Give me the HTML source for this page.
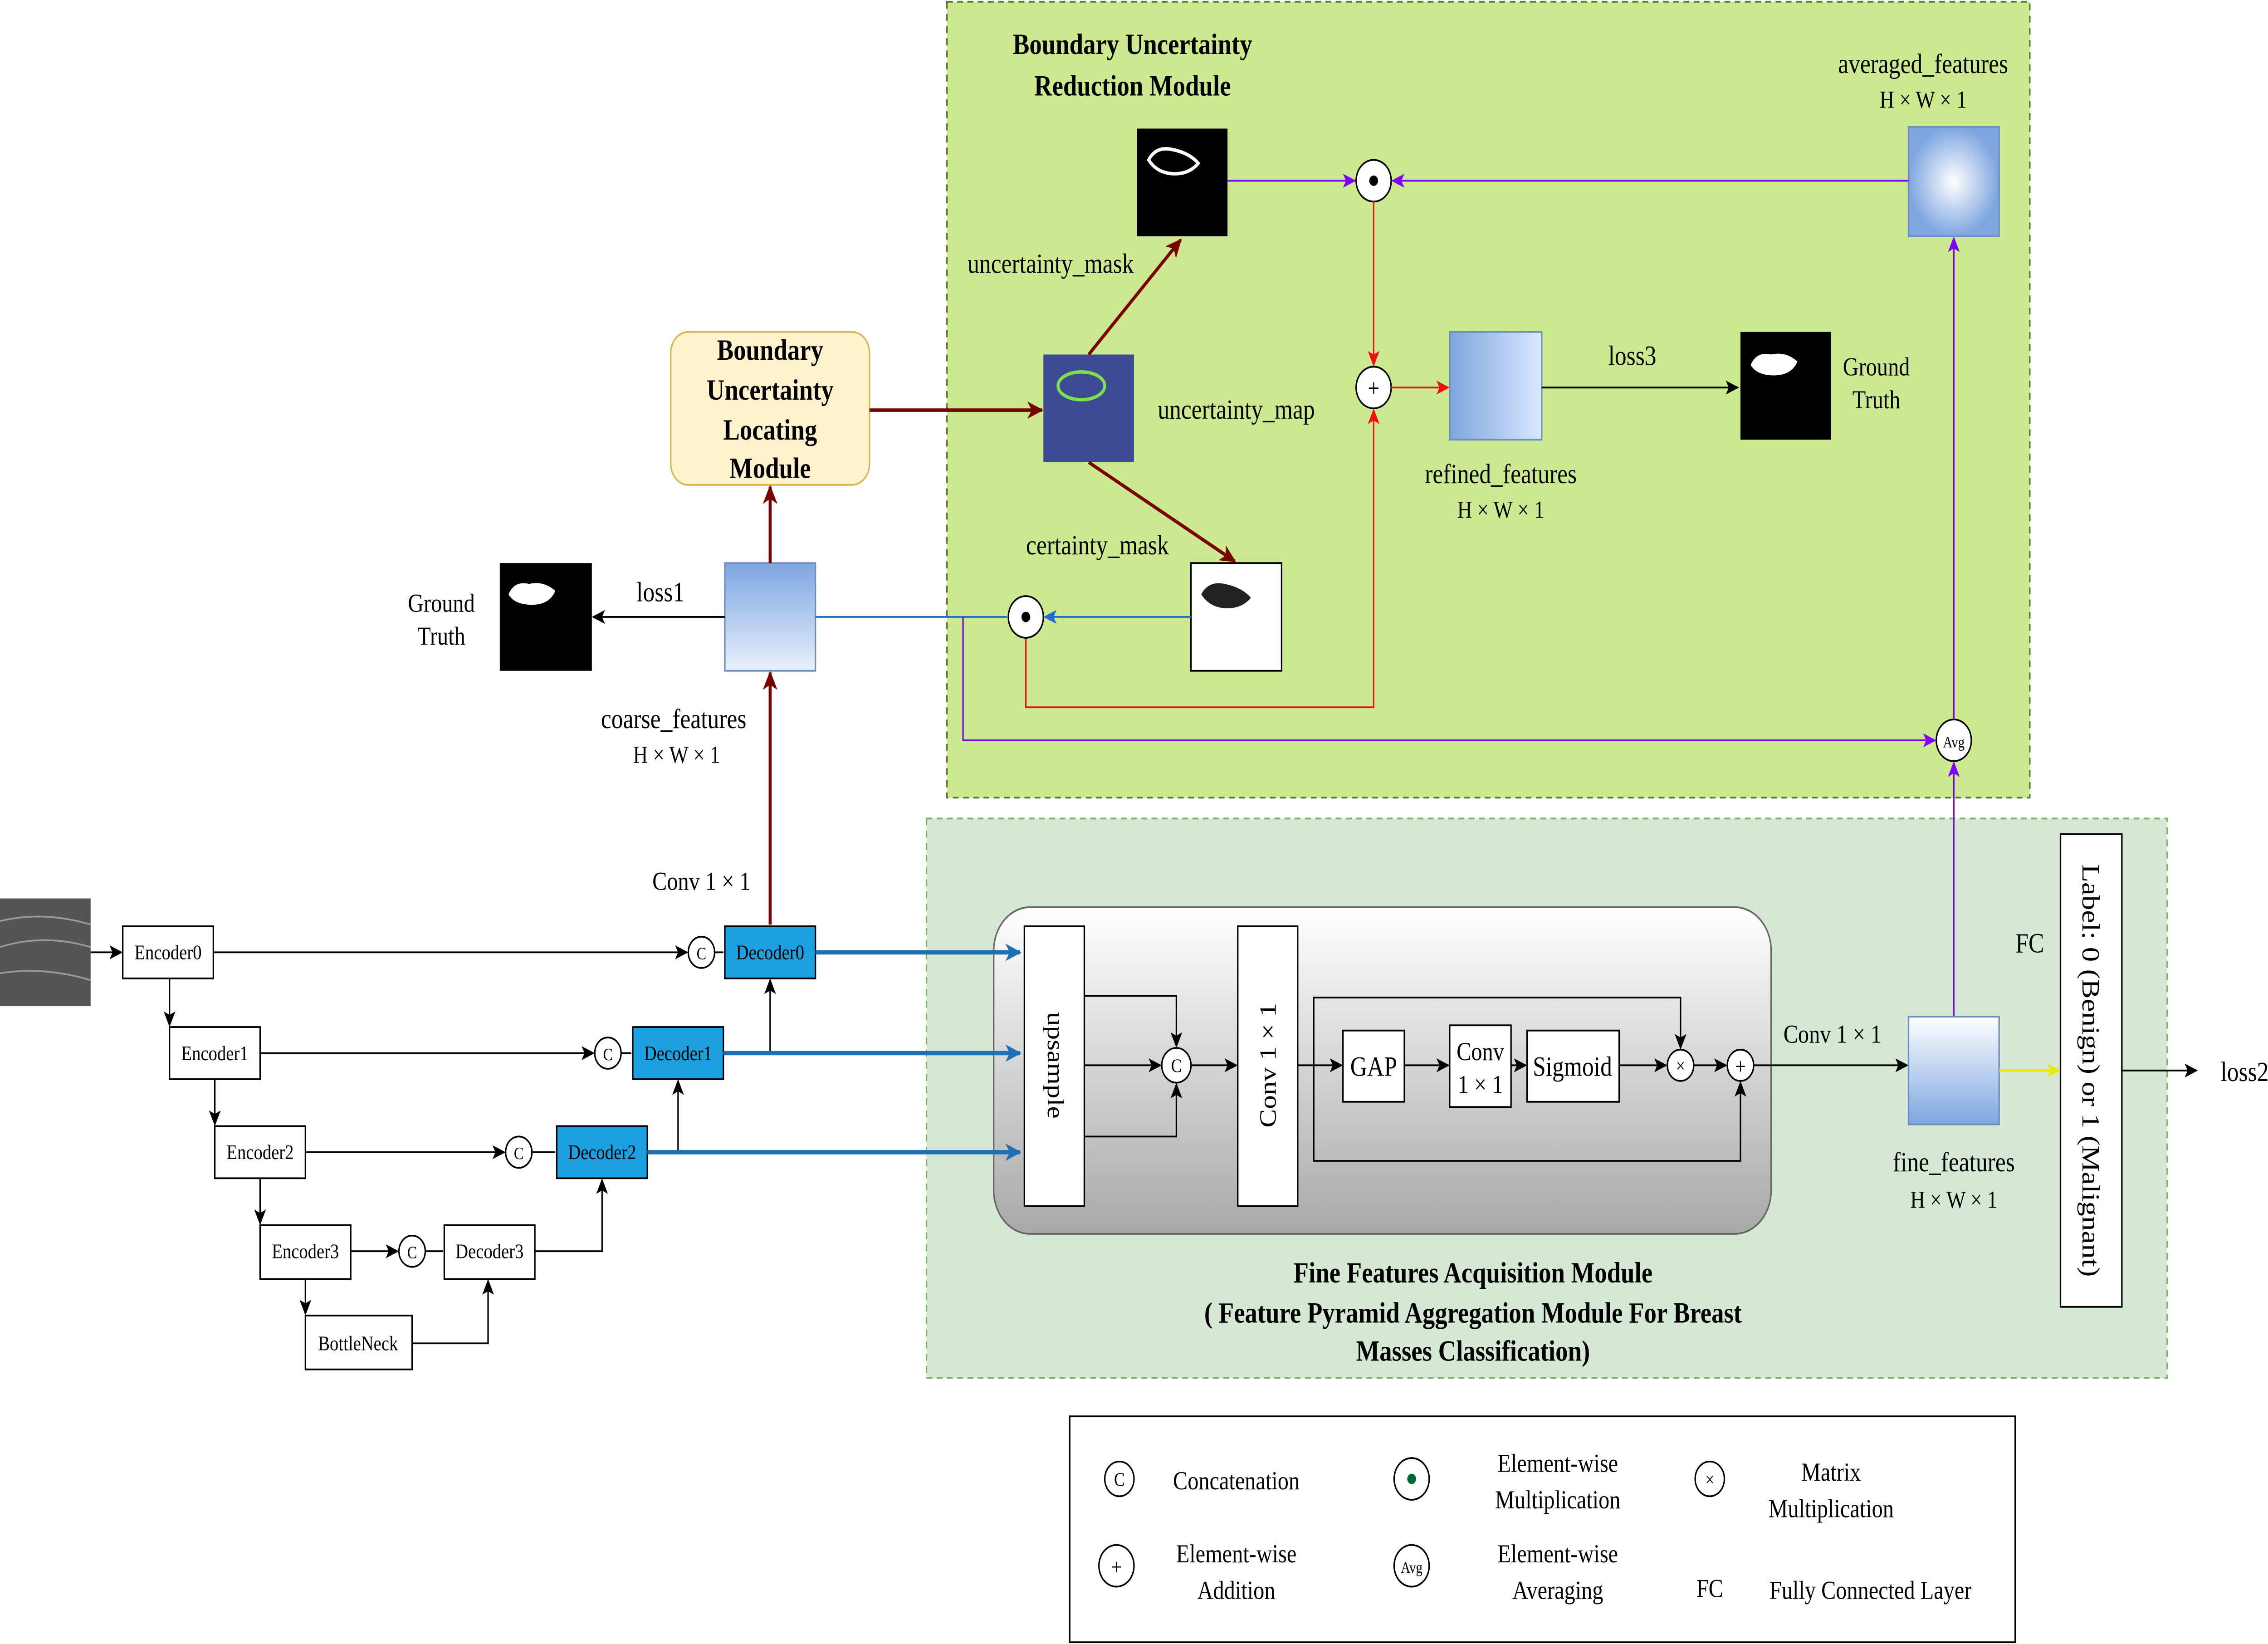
<!DOCTYPE html>
<html><head><meta charset="utf-8"><style>
html,body{margin:0;padding:0;background:#fff;overflow:hidden;width:100%;height:100%}
svg{display:block;position:fixed;left:0;top:0;width:100vw;height:100vh}
text{font-family:"Liberation Serif",serif;fill:#000}
</style></head><body>
<svg viewBox="0 0 1552 946" preserveAspectRatio="none" xmlns="http://www.w3.org/2000/svg">
<defs>
<marker id="ak" markerWidth="10" markerHeight="10" refX="8" refY="5" orient="auto" markerUnits="userSpaceOnUse"><path d="M0,1 L9,5 L0,9 L2,5z" fill="#000"/></marker>
<marker id="ar" markerWidth="10" markerHeight="10" refX="8" refY="5" orient="auto" markerUnits="userSpaceOnUse"><path d="M0,1 L9,5 L0,9 L2,5z" fill="#ee1111"/></marker>
<marker id="ad" markerWidth="12" markerHeight="12" refX="10" refY="6" orient="auto" markerUnits="userSpaceOnUse"><path d="M0,1 L11,6 L0,11 L3,6z" fill="#7a0000"/></marker>
<marker id="ap" markerWidth="10" markerHeight="10" refX="8" refY="5" orient="auto" markerUnits="userSpaceOnUse"><path d="M0,1 L9,5 L0,9 L2,5z" fill="#7f00ff"/></marker>
<marker id="ab" markerWidth="10" markerHeight="10" refX="8" refY="5" orient="auto" markerUnits="userSpaceOnUse"><path d="M0,1 L9,5 L0,9 L2,5z" fill="#1c6fd0"/></marker>
<marker id="ab2" markerWidth="12" markerHeight="12" refX="10" refY="6" orient="auto" markerUnits="userSpaceOnUse"><path d="M0,1 L11,6 L0,11 L3,6z" fill="#1f6fb5"/></marker>
<marker id="ay" markerWidth="10" markerHeight="10" refX="8" refY="5" orient="auto" markerUnits="userSpaceOnUse"><path d="M0,1 L9,5 L0,9 L2,5z" fill="#e8e800"/></marker>
<radialGradient id="rg"><stop offset="0" stop-color="#ffffff"/><stop offset="1" stop-color="#7ea6e0"/></radialGradient>
<linearGradient id="gh" x1="0" y1="0" x2="1" y2="0"><stop offset="0" stop-color="#7ea6e0"/><stop offset="1" stop-color="#dae8fc"/></linearGradient>
<linearGradient id="gv" x1="0" y1="0" x2="0" y2="1"><stop offset="0" stop-color="#7ea6e0"/><stop offset="1" stop-color="#e8f0fd"/></linearGradient>
<linearGradient id="gv2" x1="0" y1="0" x2="0" y2="1"><stop offset="0" stop-color="#ffffff"/><stop offset="1" stop-color="#7ea6e0"/></linearGradient>
<linearGradient id="gg" x1="0" y1="0" x2="0" y2="1"><stop offset="0" stop-color="#ffffff"/><stop offset="1" stop-color="#a8a8a8"/></linearGradient>
</defs>

<rect x="648" y="1" width="741" height="458" fill="#cde98f" stroke="#5a7a2a" stroke-dasharray="4 3"/>
<rect x="634" y="471" width="849" height="322" fill="#d5e8d4" stroke="#82b366" stroke-dasharray="4 3"/>

<g font-size="16">
<text x="775" y="31" text-anchor="middle" font-weight="bold" font-size="17">Boundary Uncertainty</text>
<text x="775" y="55" text-anchor="middle" font-weight="bold" font-size="17">Reduction Module</text>

<rect x="778" y="74" width="62" height="62" fill="#000"/>
<path d="M786,92 q5,-8 16,-6 q12,2 18,8 q-6,6 -16,6 q-12,0 -18,-8z" fill="none" stroke="#fff" stroke-width="2"/>
<text x="719" y="157" text-anchor="middle">uncertainty_mask</text>

<rect x="1306" y="73" width="62" height="63" fill="url(#rg)" stroke="#6c8ebf"/>
<text x="1316" y="42" text-anchor="middle">averaged_features</text>
<text x="1316" y="62" text-anchor="middle" font-size="14">H × W × 1</text>

<line x1="840" y1="104" x2="927" y2="104" stroke="#7f00ff" marker-end="url(#ap)"/>
<line x1="1306" y1="104" x2="953" y2="104" stroke="#7f00ff" marker-end="url(#ap)"/>
<circle cx="940" cy="104" r="12" fill="#fff" stroke="#000"/><circle cx="940" cy="104" r="3" fill="#000"/>
<line x1="940" y1="116" x2="940" y2="210" stroke="#ee1111" marker-end="url(#ar)"/>
<circle cx="940" cy="223" r="12" fill="#fff" stroke="#000"/><text x="940" y="228" text-anchor="middle" font-size="14">+</text>
<line x1="952" y1="223" x2="991" y2="223" stroke="#ee1111" marker-end="url(#ar)"/>
<rect x="992" y="191" width="63" height="62" fill="url(#gh)" stroke="#6c8ebf"/>
<text x="1027" y="278" text-anchor="middle">refined_features</text>
<text x="1027" y="298" text-anchor="middle" font-size="14">H × W × 1</text>
<line x1="1055" y1="223" x2="1189" y2="223" stroke="#000" marker-end="url(#ak)"/>
<text x="1117" y="210" text-anchor="middle">loss3</text>
<rect x="1191" y="191" width="62" height="62" fill="#000"/>
<path d="M1198,210 q4,-8 14,-6 q10,-2 18,4 q-4,8 -16,8 q-12,0 -16,-6z" fill="#fff"/>
<text x="1284" y="216" text-anchor="middle" font-size="15">Ground</text>
<text x="1284" y="235" text-anchor="middle" font-size="15">Truth</text>

<rect x="714" y="204" width="62" height="62" fill="#3d4a95"/>
<ellipse cx="740" cy="222" rx="16" ry="8" fill="none" stroke="#7de04a" stroke-width="2"/>
<text x="846" y="241" text-anchor="middle">uncertainty_map</text>
<line x1="745" y1="204" x2="808" y2="138" stroke="#7a0000" stroke-width="2" marker-end="url(#ad)"/>
<line x1="745" y1="266" x2="845" y2="323" stroke="#7a0000" stroke-width="2" marker-end="url(#ad)"/>
<text x="751" y="319" text-anchor="middle">certainty_mask</text>
<rect x="815" y="324" width="62" height="62" fill="#fff" stroke="#000"/>
<path d="M822,342 q5,-8 16,-6 q12,2 18,8 q-6,6 -16,6 q-12,0 -18,-8z" fill="#222"/>

<rect x="459" y="191" width="136" height="88" rx="12" fill="#fff2cc" stroke="#d6b656"/>
<g font-weight="bold" font-size="17" text-anchor="middle">
<text x="527" y="207">Boundary</text><text x="527" y="230">Uncertainty</text><text x="527" y="253">Locating</text><text x="527" y="275">Module</text></g>
<line x1="595" y1="236" x2="713" y2="236" stroke="#7a0000" stroke-width="2" marker-end="url(#ad)"/>

<rect x="496" y="324" width="62" height="62" fill="url(#gv)" stroke="#6c8ebf"/>
<line x1="527" y1="324" x2="527" y2="280" stroke="#7a0000" stroke-width="2" marker-end="url(#ad)"/>
<line x1="496" y1="355" x2="406" y2="355" stroke="#000" marker-end="url(#ak)"/>
<text x="452" y="346" text-anchor="middle">loss1</text>
<rect x="342" y="324" width="63" height="62" fill="#000"/>
<path d="M348,342 q4,-8 14,-6 q10,-2 18,4 q-4,8 -16,8 q-12,0 -16,-6z" fill="#fff"/>
<text x="302" y="352" text-anchor="middle" font-size="15">Ground</text>
<text x="302" y="371" text-anchor="middle" font-size="15">Truth</text>
<text x="461" y="419" text-anchor="middle">coarse_features</text>
<text x="463" y="439" text-anchor="middle" font-size="14">H × W × 1</text>
<line x1="527" y1="532" x2="527" y2="387" stroke="#7a0000" stroke-width="2" marker-end="url(#ad)"/>
<text x="480" y="512" text-anchor="middle" font-size="15">Conv 1 × 1</text>

<line x1="558" y1="355" x2="689" y2="355" stroke="#1c6fd0"/>
<line x1="815" y1="355" x2="715" y2="355" stroke="#1c6fd0" marker-end="url(#ab)"/>
<polyline points="702,367 702,407 940,407 940,236" fill="none" stroke="#ee1111" marker-end="url(#ar)"/>
<polyline points="659,355 659,426 1324,426" fill="none" stroke="#7f00ff" marker-end="url(#ap)"/>
<circle cx="702" cy="355" r="12" fill="#fff" stroke="#000"/><circle cx="702" cy="355" r="3" fill="#000"/>
<circle cx="1337" cy="426" r="12" fill="#fff" stroke="#000"/><text x="1337" y="430" text-anchor="middle" font-size="9">Avg</text>
<line x1="1337" y1="414" x2="1337" y2="137" stroke="#7f00ff" marker-end="url(#ap)"/>
<line x1="1337" y1="585" x2="1337" y2="439" stroke="#7f00ff" marker-end="url(#ap)"/>
</g>

<g font-size="12">
<rect x="0" y="517" width="62" height="62" fill="#555"/>
<path d="M0,530 q30,-6 62,2 M0,545 q30,-8 62,0 M0,560 q30,-4 62,4" stroke="#999" fill="none"/>
<line x1="62" y1="548" x2="83" y2="548" stroke="#000" marker-end="url(#ak)"/>
<rect x="84" y="533" width="62" height="30" fill="#fff" stroke="#000"/><text x="115" y="552" text-anchor="middle">Encoder0</text>
<rect x="116" y="591" width="62" height="30" fill="#fff" stroke="#000"/><text x="147" y="610" text-anchor="middle">Encoder1</text>
<rect x="147" y="648" width="62" height="30" fill="#fff" stroke="#000"/><text x="178" y="667" text-anchor="middle">Encoder2</text>
<rect x="178" y="705" width="62" height="31" fill="#fff" stroke="#000"/><text x="209" y="724" text-anchor="middle">Encoder3</text>
<rect x="209" y="757" width="73" height="31" fill="#fff" stroke="#000"/><text x="245" y="777" text-anchor="middle">BottleNeck</text>
<rect x="304" y="705" width="62" height="31" fill="#fff" stroke="#000"/><text x="335" y="724" text-anchor="middle">Decoder3</text>
<rect x="381" y="648" width="62" height="30" fill="#1ba1e2" stroke="#000"/><text x="412" y="667" text-anchor="middle">Decoder2</text>
<rect x="433" y="591" width="62" height="30" fill="#1ba1e2" stroke="#000"/><text x="464" y="610" text-anchor="middle">Decoder1</text>
<rect x="496" y="533" width="62" height="30" fill="#1ba1e2" stroke="#000"/><text x="527" y="552" text-anchor="middle">Decoder0</text>
<g stroke="#000" fill="none">
<line x1="146" y1="548" x2="470" y2="548" marker-end="url(#ak)"/>
<line x1="178" y1="606" x2="406" y2="606" marker-end="url(#ak)"/>
<line x1="209" y1="663" x2="345" y2="663" marker-end="url(#ak)"/>
<line x1="240" y1="720" x2="272" y2="720" marker-end="url(#ak)"/>
<line x1="116" y1="563" x2="116" y2="590" marker-end="url(#ak)"/>
<line x1="147" y1="621" x2="147" y2="647" marker-end="url(#ak)"/>
<line x1="178" y1="678" x2="178" y2="704" marker-end="url(#ak)"/>
<line x1="209" y1="736" x2="209" y2="756" marker-end="url(#ak)"/>
<polyline points="282,773 334,773 334,737" marker-end="url(#ak)"/>
<polyline points="366,720 412,720 412,679" marker-end="url(#ak)"/>
<polyline points="443,663 464,663 464,622" marker-end="url(#ak)"/>
<polyline points="495,606 527,606 527,564" marker-end="url(#ak)"/>
<line x1="489" y1="548" x2="495" y2="548"/><line x1="425" y1="606" x2="432" y2="606"/><line x1="364" y1="663" x2="380" y2="663"/><line x1="291" y1="720" x2="303" y2="720"/>
</g>
<g fill="#fff" stroke="#000">
<circle cx="480" cy="548" r="9"/><circle cx="416" cy="606" r="9"/><circle cx="355" cy="663" r="9"/><circle cx="282" cy="720" r="9"/></g>
<g font-size="10" text-anchor="middle"><text x="480" y="552">C</text><text x="416" y="610">C</text><text x="355" y="667">C</text><text x="282" y="724">C</text></g>
</g>

<rect x="680" y="522" width="532" height="188" rx="25" fill="url(#gg)" stroke="#666"/>
<g stroke="#1f6fb5" stroke-width="2.5" fill="none">
<line x1="558" y1="548" x2="698" y2="548" marker-end="url(#ab2)"/>
<line x1="495" y1="606" x2="698" y2="606" marker-end="url(#ab2)"/>
<line x1="443" y1="663" x2="698" y2="663" marker-end="url(#ab2)"/>
</g>
<g font-size="16">
<rect x="701" y="533" width="41" height="161" fill="#fff" stroke="#000"/>
<text transform="translate(717,613) rotate(90)" text-anchor="middle">upsample</text>
<g stroke="#000" fill="none">
<polyline points="742,573 805,573 805,602" marker-end="url(#ak)"/>
<line x1="742" y1="613" x2="794" y2="613" marker-end="url(#ak)"/>
<polyline points="742,654 805,654 805,624" marker-end="url(#ak)"/>
<line x1="815" y1="613" x2="846" y2="613" marker-end="url(#ak)"/>
<line x1="888" y1="613" x2="918" y2="613" marker-end="url(#ak)"/>
<line x1="961" y1="613" x2="991" y2="613" marker-end="url(#ak)"/>
<line x1="1034" y1="613" x2="1044" y2="613" marker-end="url(#ak)"/>
<line x1="1108" y1="613" x2="1140" y2="613" marker-end="url(#ak)"/>
<line x1="1159" y1="613" x2="1181" y2="613" marker-end="url(#ak)"/>
<polyline points="899,613 899,574 1150,574 1150,603" marker-end="url(#ak)"/>
<polyline points="899,613 899,668 1191,668 1191,623" marker-end="url(#ak)"/>
<line x1="1200" y1="613" x2="1305" y2="613" marker-end="url(#ak)"/>
</g>
<circle cx="805" cy="613" r="10" fill="#fff" stroke="#000"/><text x="805" y="617" text-anchor="middle" font-size="11">C</text>
<rect x="847" y="533" width="41" height="161" fill="#fff" stroke="#000"/>
<text transform="translate(873,613) rotate(-90)" text-anchor="middle">Conv 1 × 1</text>
<rect x="919" y="593" width="42" height="41" fill="#fff" stroke="#000"/><text x="940" y="619" text-anchor="middle">GAP</text>
<rect x="992" y="590" width="42" height="47" fill="#fff" stroke="#000"/><text x="1013" y="610" text-anchor="middle" font-size="15">Conv</text><text x="1013" y="629" text-anchor="middle" font-size="15">1 × 1</text>
<rect x="1045" y="593" width="63" height="41" fill="#fff" stroke="#000"/><text x="1076" y="619" text-anchor="middle">Sigmoid</text>
<circle cx="1150" cy="613" r="9" fill="#fff" stroke="#000"/><text x="1150" y="617" text-anchor="middle" font-size="11">×</text>
<circle cx="1191" cy="613" r="9" fill="#fff" stroke="#000"/><text x="1191" y="618" text-anchor="middle" font-size="13">+</text>
<text x="1254" y="600" text-anchor="middle" font-size="15">Conv 1 × 1</text>
<rect x="1306" y="585" width="62" height="62" fill="url(#gv2)" stroke="#6c8ebf"/>
<text x="1337" y="674" text-anchor="middle">fine_features</text>
<text x="1337" y="695" text-anchor="middle" font-size="14">H × W × 1</text>
<line x1="1368" y1="616" x2="1409" y2="616" stroke="#e8e800" stroke-width="1.5" marker-end="url(#ay)"/>
<text x="1389" y="548" text-anchor="middle">FC</text>
<rect x="1410" y="480" width="42" height="272" fill="#fff" stroke="#000"/>
<text transform="translate(1425,616) rotate(90)" text-anchor="middle" font-size="17">Label: 0 (Benign) or 1 (Malignant)</text>
<line x1="1452" y1="616" x2="1503" y2="616" stroke="#000" marker-end="url(#ak)"/>
<text x="1536" y="622" text-anchor="middle">loss2</text>
<g font-weight="bold" font-size="17" text-anchor="middle">
<text x="1008" y="738">Fine Features Acquisition Module</text>
<text x="1008" y="761">( Feature Pyramid Aggregation Module For Breast</text>
<text x="1008" y="783">Masses Classification)</text></g>

<rect x="732" y="815" width="647" height="130" fill="#fff" stroke="#000"/>
<circle cx="766" cy="851" r="10" fill="#fff" stroke="#000"/><text x="766" y="855" text-anchor="middle" font-size="11">C</text>
<text x="846" y="857" text-anchor="middle" font-size="15">Concatenation</text>
<circle cx="966" cy="851" r="12" fill="#fff" stroke="#000"/><circle cx="966" cy="851" r="3" fill="#063"/>
<text x="1066" y="847" text-anchor="middle" font-size="15">Element-wise</text><text x="1066" y="868" text-anchor="middle" font-size="15">Multiplication</text>
<circle cx="1170" cy="851" r="10" fill="#fff" stroke="#000"/><text x="1170" y="855" text-anchor="middle" font-size="11">×</text>
<text x="1253" y="852" text-anchor="middle" font-size="15">Matrix</text><text x="1253" y="873" text-anchor="middle" font-size="15">Multiplication</text>
<circle cx="764" cy="901" r="12" fill="#fff" stroke="#000"/><text x="764" y="906" text-anchor="middle" font-size="13">+</text>
<text x="846" y="899" text-anchor="middle" font-size="15">Element-wise</text><text x="846" y="920" text-anchor="middle" font-size="15">Addition</text>
<circle cx="966" cy="901" r="12" fill="#fff" stroke="#000"/><text x="966" y="905" text-anchor="middle" font-size="9">Avg</text>
<text x="1066" y="899" text-anchor="middle" font-size="15">Element-wise</text><text x="1066" y="920" text-anchor="middle" font-size="15">Averaging</text>
<text x="1170" y="919" text-anchor="middle" font-size="15">FC</text>
<text x="1280" y="920" text-anchor="middle" font-size="15">Fully Connected Layer</text>
</g>
</svg>
</body></html>
